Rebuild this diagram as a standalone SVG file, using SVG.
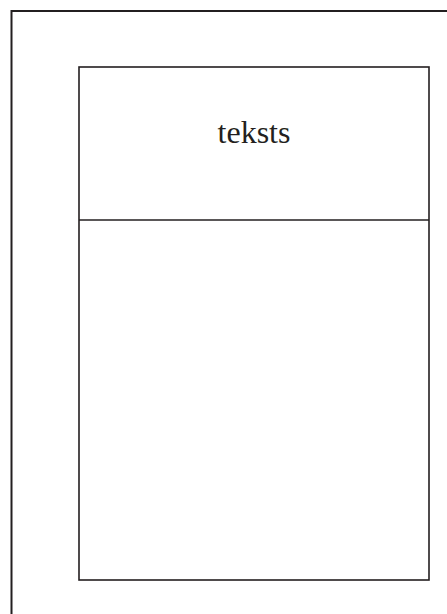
<svg xmlns="http://www.w3.org/2000/svg" width="447" height="614" viewBox="0 0 447 614">
<style>
.frame{fill:none;stroke:#231f20;stroke-width:2}
.box{fill:none;stroke:#231f20;stroke-width:1.6}
.label{font-family:"Liberation Serif","DejaVu Serif",serif;font-size:32px;fill:#231f20;text-anchor:middle}
</style>
<rect width="447" height="614" fill="#fff"/>
<g id="outer-frame">
<path class="frame" d="M11.5,620 V11 H450"/>
</g>
<g id="box">
<rect class="box" x="79" y="67" width="350" height="513"/>
<line class="box" x1="79" y1="220" x2="429" y2="220"/>
<text class="label" x="254" y="143">teksts</text>
</g>
<g id="connectors"/>
</svg>
